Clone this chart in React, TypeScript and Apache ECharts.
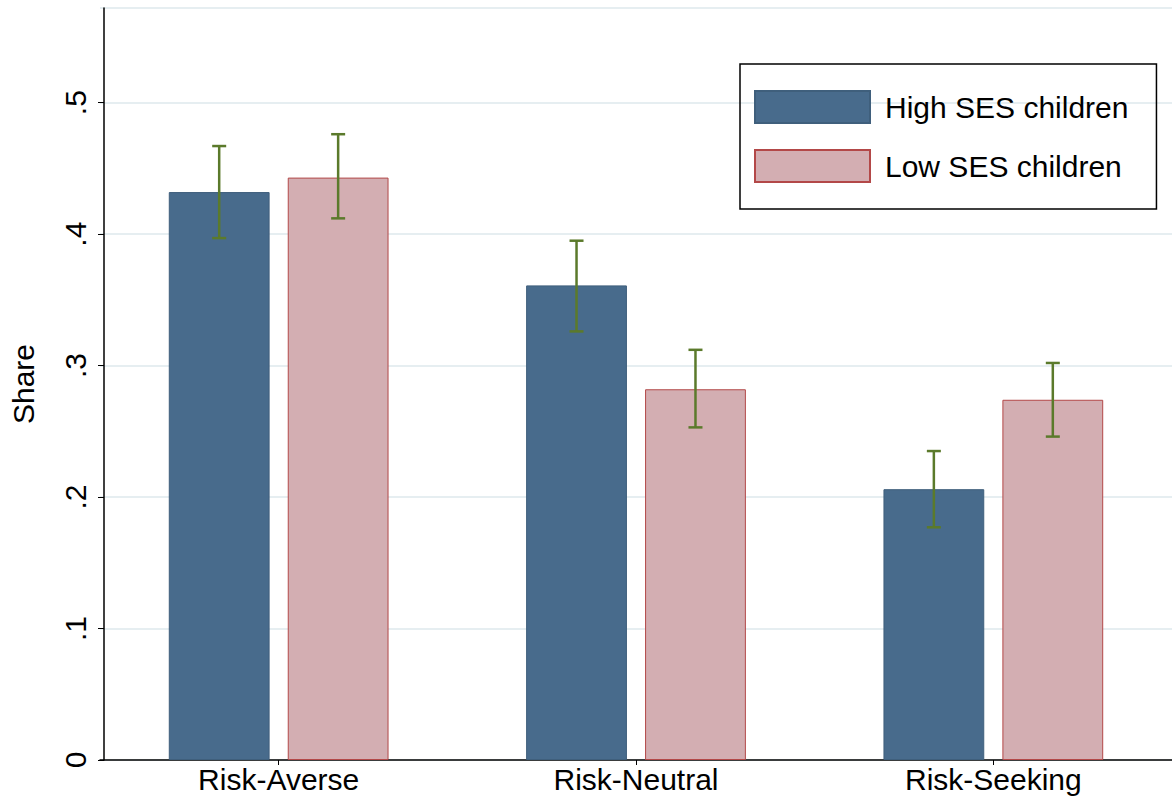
import { useEffect, useRef } from "react";
import * as echarts from "echarts";

const categories = ["Risk-Averse", "Risk-Neutral", "Risk-Seeking"];
const highSes = [0.432, 0.361, 0.206];
const lowSes = [0.443, 0.282, 0.274];
const highCi = [[0.397, 0.467], [0.326, 0.395], [0.177, 0.235]];
const lowCi = [[0.412, 0.476], [0.253, 0.312], [0.246, 0.302]];
const yTicks = ["0", ".1", ".2", ".3", ".4", ".5"];

const CAT_GAP = 0.385;
const BAR_GAP = 0.18;

function errorSeries(ci: number[][], side: number) {
  return {
    type: "custom",
    silent: true,
    z: 5,
    data: ci.map((c, i) => [i, c[0], c[1]]),
    renderItem: (params: any, api: any) => {
      const band = api.size([1, 0])[0];
      const bw = (band * (1 - CAT_GAP)) / (2 + BAR_GAP);
      const off = side * (bw * (1 + BAR_GAP)) / 2;
      const lo = api.coord([api.value(0), api.value(1)]);
      const hi = api.coord([api.value(0), api.value(2)]);
      const x = lo[0] + off;
      const cap = 7;
      const style = { stroke: "#5b7a2b", lineWidth: 2.5 };
      return {
        type: "group",
        children: [
          { type: "line", shape: { x1: x, y1: lo[1], x2: x, y2: hi[1] }, style },
          { type: "line", shape: { x1: x - cap, y1: lo[1], x2: x + cap, y2: lo[1] }, style },
          { type: "line", shape: { x1: x - cap, y1: hi[1], x2: x + cap, y2: hi[1] }, style },
        ],
      };
    },
  };
}

export default function App() {
  const ref = useRef<HTMLDivElement>(null);

  useEffect(() => {
    document.body.style.margin = "0";
    if (!ref.current) return;
    const chart = echarts.init(ref.current, null, { renderer: "svg" });
    const font = "'Liberation Sans', Arial, sans-serif";
    chart.setOption({
      animation: false,
      backgroundColor: "#ffffff",
      textStyle: { fontFamily: font },
      grid: { left: 96, right: -11, top: 8, bottom: 40 },
      legend: {
        orient: "vertical",
        left: 740,
        top: 64,
        padding: [26, 28, 26, 14],
        itemGap: 25,
        itemWidth: 115,
        itemHeight: 32,
        icon: "rect",
        borderColor: "#000",
        borderWidth: 1.5,
        textStyle: { fontSize: 30, color: "#000", fontFamily: font, padding: [0, 0, 0, 10] },
        data: ["High SES children", "Low SES children"],
      },
      xAxis: {
        type: "category",
        data: categories,
        axisLine: { lineStyle: { color: "#000", width: 1.5 } },
        axisTick: { show: true, alignWithLabel: true, length: 5, lineStyle: { color: "#000" } },
        axisLabel: { fontSize: 30, color: "#000", margin: 4 },
      },
      yAxis: {
        type: "value",
        min: 0,
        max: 0.572,
        interval: 0.1,
        offset: -4,
        axisLine: { show: true, lineStyle: { color: "#000", width: 1.5 } },
        axisTick: { show: true, length: 6, lineStyle: { color: "#000" } },
        axisLabel: {
          fontSize: 30,
          color: "#000",
          rotate: 90,
          margin: 14,
          showMaxLabel: false,
          formatter: (v: number) => yTicks[Math.round(v * 10)] ?? "",
        },
        splitLine: { lineStyle: { color: "#e6eef1", width: 2 } },
        name: "Share",
        nameLocation: "middle",
        nameGap: 66,
        nameRotate: 90,
        nameTextStyle: { fontSize: 30, color: "#000" },
      },
      series: [
        {
          name: "High SES children",
          type: "bar",
          data: highSes,
          barGap: `${BAR_GAP * 100}%`,
          barCategoryGap: `${CAT_GAP * 100}%`,
          itemStyle: { color: "#486b8c", borderColor: "#3f5f7c", borderWidth: 1 },
        },
        {
          name: "Low SES children",
          type: "bar",
          data: lowSes,
          itemStyle: { color: "#d3aeb2", borderColor: "#b34848", borderWidth: 1 },
        },
        errorSeries(highCi, -1),
        errorSeries(lowCi, 1),
      ],
    });
    return () => chart.dispose();
  }, []);

  return <div ref={ref} style={{ width: 1172, height: 800 }} />;
}
